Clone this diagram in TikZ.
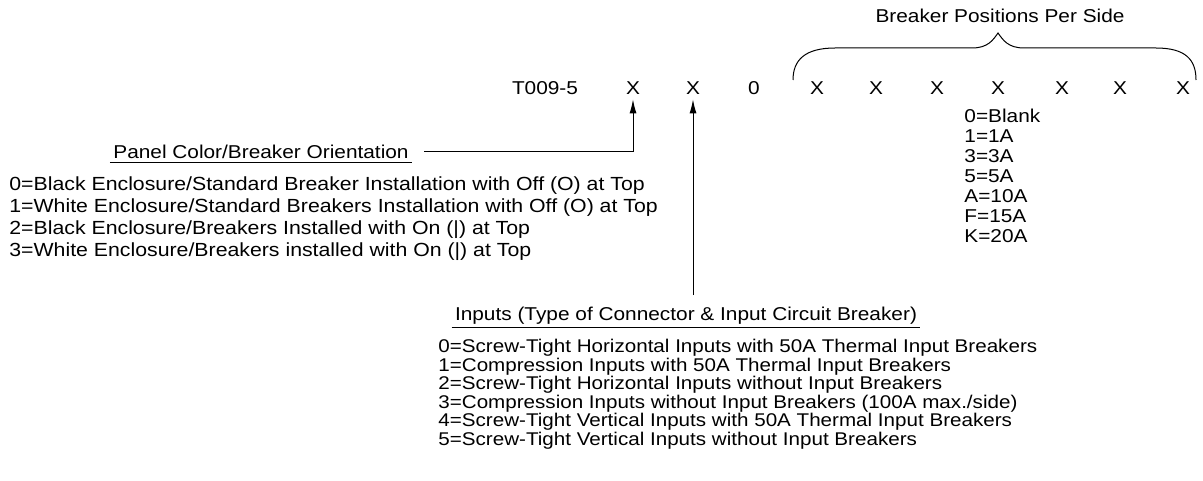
\documentclass[tikz,border=0pt]{standalone}
\usepackage{fontspec}
\setmainfont{Liberation Sans}[FakeStretch=1.12]
\usetikzlibrary{arrows.meta,calc,positioning}

\begin{document}
\begin{tikzpicture}[
  x=0.5pt, y=-0.5pt,
  code/.style={font=\fontsize{9.3}{10}\selectfont, inner sep=2pt, anchor=base},
  head/.style={font=\fontsize{9.3}{10}\selectfont, inner sep=1.5pt, anchor=base},
  list/.style={font=\fontsize{9.3}{10}\selectfont, inner sep=0pt, align=left, anchor=north west},
  line/.style={-{Latex[length=7pt,width=3.5pt]}, line width=0.5pt},
  ruler/.style={line width=0.5pt}
]
\useasboundingbox (0,0) rectangle (1203,481);

\node[code] (model) at (545,95) {T009-5};
\node[code] (c1) at (633,95) {X};
\node[code] (c2) at (693,95) {X};
\node[code] (c3) at (754,95) {0};
\node[code] (p1) at (817,95) {X};
\node[code] (p2) at (876,95) {X};
\node[code] (p3) at (937,95) {X};
\node[code] (p4) at (998,95) {X};
\node[code] (p5) at (1062,95) {X};
\node[code] (p6) at (1120,95) {X};
\node[code] (p7) at (1183,95) {X};

\node[head] (sides) at (1000,23) {Breaker Positions Per Side};
\coordinate (bl) at (793,80);
\coordinate (br) at (1196,80);
\coordinate (btip) at (998,33);
\draw[ruler] (bl) .. controls (793,60) and (805,48) .. (835,48) -- (972,48)
  .. controls (988,48) and (993,40) .. (btip)
  .. controls (1003,40) and (1008,48) .. (1024,48) -- (1156,48)
  .. controls (1186,48) and (1196,60) .. (br);

\node[list] (ratings) at (964,109) {0=Blank\\1=1A\\3=3A\\5=5A\\A=10A\\F=15A\\K=20A};

\node[head] (panel) at (261,158) {Panel Color/Breaker Orientation};
\node[list, font=\fontsize{9.5}{11.1}\selectfont] (colors) at (9,176) {0=Black Enclosure/Standard Breaker Installation with Off (O) at Top\\
1=White Enclosure/Standard Breakers Installation with Off (O) at Top\\
2=Black Enclosure/Breakers Installed with On (|) at Top\\
3=White Enclosure/Breakers installed with On (|) at Top};

\node[head] (inputs) at (686,320) {Inputs (Type of Connector \& Input Circuit Breaker)};
\node[list, font=\fontsize{9.2}{9.25}\selectfont] (types) at (438,339) {0=Screw-Tight Horizontal Inputs with 50A Thermal Input Breakers\\
1=Compression Inputs with 50A Thermal Input Breakers\\
2=Screw-Tight Horizontal Inputs without Input Breakers\\
3=Compression Inputs without Input Breakers (100A max./side)\\
4=Screw-Tight Vertical Inputs with 50A Thermal Input Breakers\\
5=Screw-Tight Vertical Inputs without Input Breakers};

\draw[ruler] ([yshift=-2pt]panel.base west) -- ([yshift=-2pt]panel.base east);
\draw[ruler] ([yshift=-3.6pt]inputs.base west) -- ([yshift=-3.6pt]inputs.base east);
\draw[line] ([xshift=6pt]panel.east) -| (c1.south);
\draw[line] ($(inputs.north -| c2.south)+(0,4pt)$) -- (c2.south);
\end{tikzpicture}
\end{document}
